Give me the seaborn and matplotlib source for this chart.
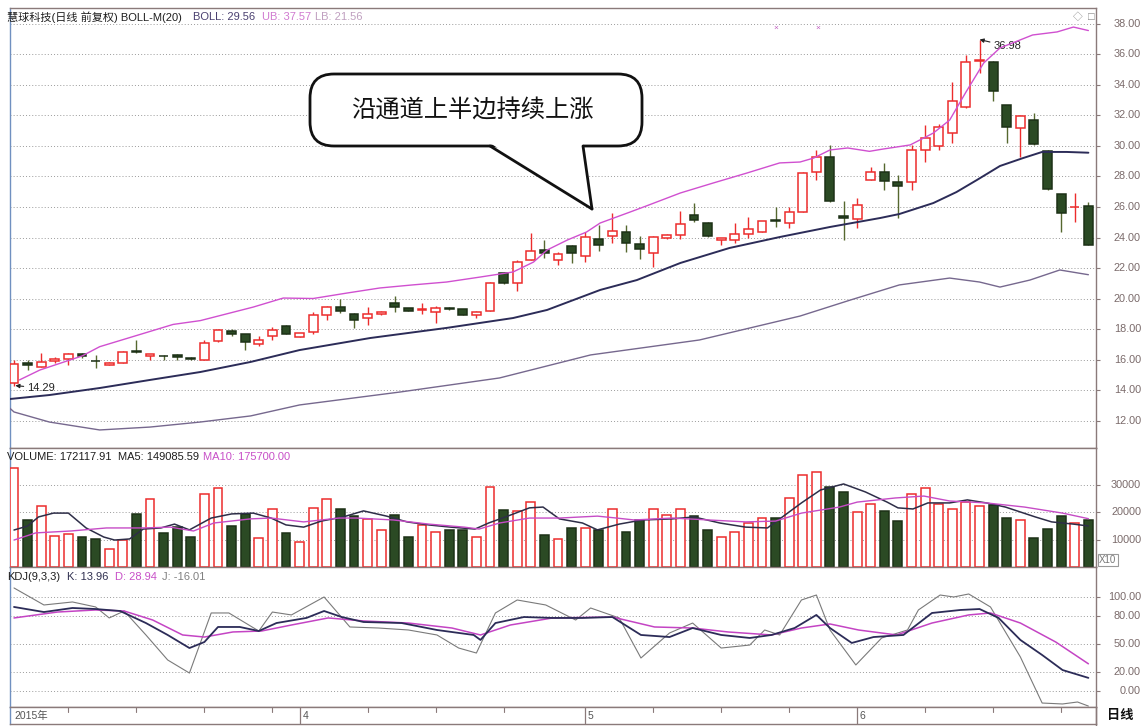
import numpy as np
import pandas as pd
import matplotlib
matplotlib.use("Agg")
import matplotlib.pyplot as plt
import seaborn as sns
from matplotlib.patches import FancyBboxPatch, Polygon

# ---------------- data ----------------
opens = [14.45, 15.78, 15.53, 15.88, 16.01, 16.34, 15.93, 15.66, 15.79, 16.53,
         16.25, 16.25, 16.27, 16.08, 15.98, 17.20, 17.85, 17.68, 17.03, 17.55,
         18.20, 17.50, 17.78, 18.92, 19.42, 19.00, 18.70, 18.97, 19.70, 19.36,
         19.27, 19.14, 19.38, 19.29, 18.92, 19.18, 21.70, 21.00, 22.52, 23.18,
         22.55, 23.44, 22.80, 23.88, 24.10, 24.38, 23.55, 23.00, 24.00, 24.16,
         25.48, 24.97, 23.85, 23.84, 24.23, 24.38, 25.15, 24.98, 25.70, 28.28,
         29.30, 25.41, 25.20, 27.77, 28.28, 27.62, 27.66, 29.74, 30.00, 30.83,
         32.54, 35.58, 35.53, 32.69, 31.16, 31.70, 29.69, 26.85, 25.98, 26.07]
highs = [15.95, 15.97, 16.45, 16.18, 16.42, 16.42, 16.30, 15.82, 16.55, 17.28,
         16.38, 16.30, 16.35, 16.18, 17.30, 18.02, 18.00, 17.70, 17.54, 18.15,
         18.25, 17.76, 19.14, 19.50, 20.00, 19.05, 19.46, 19.18, 20.16, 19.40,
         19.70, 19.50, 19.45, 19.30, 19.18, 21.06, 21.75, 22.50, 24.28, 23.83,
         23.07, 23.50, 24.38, 24.80, 25.60, 24.82, 24.10, 24.10, 24.25, 25.74,
         26.28, 25.00, 24.00, 24.93, 25.32, 25.10, 26.02, 26.02, 28.30, 29.74,
         30.07, 26.39, 26.60, 28.64, 28.87, 28.10, 30.07, 31.38, 31.44, 34.22,
         35.97, 36.98, 35.60, 32.72, 32.00, 32.14, 29.72, 26.88, 26.90, 26.35]
lows = [14.29, 15.31, 15.50, 15.75, 15.64, 16.08, 15.44, 15.62, 15.77, 16.42,
        15.97, 15.95, 16.00, 15.95, 15.97, 17.15, 17.55, 16.62, 16.90, 17.28,
        17.65, 17.45, 17.70, 18.60, 19.07, 18.05, 18.26, 18.90, 19.14, 19.15,
        19.00, 18.40, 19.25, 18.90, 18.70, 19.15, 20.95, 20.50, 22.50, 22.64,
        22.20, 22.30, 22.40, 23.14, 23.62, 23.07, 22.57, 22.09, 23.90, 23.88,
        25.04, 24.05, 23.50, 23.66, 23.95, 24.35, 24.70, 24.60, 25.65, 27.77,
        26.35, 23.84, 24.60, 27.75, 27.11, 25.26, 27.11, 28.97, 29.74, 30.22,
        32.50, 34.77, 32.95, 30.22, 29.30, 30.08, 27.10, 24.38, 25.04, 23.48]
closes = [15.68, 15.65, 15.86, 16.03, 16.36, 16.20, 15.88, 15.79, 16.51, 16.48,
          16.36, 16.20, 16.18, 16.02, 17.10, 17.95, 17.65, 17.13, 17.28, 17.93,
          17.68, 17.72, 18.92, 19.42, 19.15, 18.60, 18.96, 19.14, 19.42, 19.20,
          19.31, 19.40, 19.34, 18.92, 19.14, 21.04, 21.00, 22.42, 23.12, 22.96,
          22.90, 22.96, 24.05, 23.50, 24.43, 23.62, 23.25, 24.05, 24.16, 24.89,
          25.15, 24.10, 23.98, 24.23, 24.54, 25.08, 25.05, 25.70, 28.25, 29.26,
          26.39, 25.26, 26.10, 28.32, 27.73, 27.40, 29.74, 30.50, 31.22, 32.95,
          35.53, 35.62, 33.61, 31.23, 31.97, 30.11, 27.15, 25.59, 26.03, 23.51]
volumes = [36000, 17100, 22200, 11400, 12000, 10900, 10200, 6500, 9800, 19300,
           24700, 12400, 14600, 10900, 26500, 28600, 14900, 19300, 10500, 21100,
           12400, 9100, 21500, 24700, 21100, 18500, 17300, 13500, 18900, 11000,
           15300, 12700, 13500, 13500, 10900, 29000, 20700, 20400, 23600, 11600,
           10200, 14200, 14200, 13500, 21200, 12800, 17100, 21200, 18900, 21200,
           18500, 13500, 11000, 12800, 16000, 17800, 17800, 25200, 33500, 34500,
           29100, 27400, 20100, 22900, 20400, 16700, 26500, 28700, 22900, 21100,
           23700, 22200, 22500, 17900, 17100, 10500, 13800, 18700, 16000, 17200]

# Bollinger band lines (candle position, price)
boll_up_x = [0.4, 1.9, 5.0, 6.3, 11.7, 13.7, 17.6, 19.8, 22.0, 24.5, 26.9, 29.3, 31.8,
             34.3, 36.7, 38.2, 39.2, 40.7, 42.1, 43.1, 45.3, 46.5, 49.0, 51.4, 53.9,
             56.3, 57.8, 58.8, 60.0, 61.3, 62.9, 63.9, 65.9, 67.6, 68.8, 70.0, 71.3,
             72.5, 74.9, 76.7, 77.9, 79.0]
boll_up_y = [14.66, 15.31, 16.23, 16.84, 18.30, 18.55, 19.44, 20.03, 20.00, 20.36, 20.69,
             20.89, 21.08, 21.41, 21.74, 22.39, 23.18, 23.84, 24.36, 24.95, 25.67, 26.07,
             26.92, 27.57, 28.23, 28.89, 28.95, 29.21, 29.74, 29.87, 29.65, 29.80, 30.07,
             30.85, 31.70, 33.54, 35.44, 36.43, 37.28, 37.48, 37.80, 37.57]
boll_mid_x = [-0.3, 2.6, 6.3, 10.0, 13.7, 17.4, 21.0, 26.2, 31.8, 36.7, 39.2, 43.1, 45.8,
              49.0, 52.6, 56.3, 60.0, 63.7, 65.1, 67.6, 69.3, 70.8, 72.5, 74.2, 75.6,
              77.4, 79.0]
boll_mid_y = [13.41, 13.67, 14.13, 14.66, 15.18, 15.84, 16.62, 17.41, 18.07, 18.72, 19.25,
              20.56, 21.21, 22.33, 23.31, 24.03, 24.69, 25.28, 25.54, 26.26, 26.98, 27.77,
              28.69, 29.21, 29.61, 29.61, 29.56]
boll_low_x = [-0.3, 0.0, 2.6, 6.3, 10.0, 13.7, 17.4, 21.0, 28.4, 35.7, 42.4, 50.4, 57.8,
              61.5, 65.1, 68.8, 71.0, 72.5, 74.7, 76.9, 79.0]
boll_low_y = [12.80, 12.56, 11.90, 11.38, 11.57, 11.90, 12.30, 13.02, 13.87, 14.79, 16.30,
              17.28, 18.85, 19.90, 20.89, 21.34, 21.08, 20.75, 21.21, 21.87, 21.56]

# Volume moving averages (candle position, value)
ma5_x = [0, 1, 1.8, 2.9, 4, 5.3, 6.6, 7.4, 8.5, 9.5, 10.8, 11.8, 12.9, 14.5, 16, 17.6, 18.9,
         20, 21.3, 22.6, 24.2, 25.7, 27.4, 28.9, 30.5, 32.1, 33.9, 34.9, 36.3, 37.9, 38.9,
         40.1, 41.8, 42.9, 44.5, 46.2, 48.4, 50, 51.9, 53.8, 55.4, 56.5, 57.9, 59.3, 61,
         62.6, 64.2, 65, 66.1, 67.2, 68.8, 70.1, 71.5, 72.9, 74, 75.1, 76.3, 77.9, 79]
ma5_y = [13450, 14900, 18200, 19600, 19600, 14200, 10900, 9800, 10200, 13800, 14200, 15600,
         13500, 17800, 19300, 19600, 17800, 15300, 14500, 16700, 18200, 20400, 18500, 16400,
         15300, 14500, 13800, 16000, 18500, 21500, 21800, 17500, 16000, 13500, 15600, 17100,
         17500, 18200, 16000, 14500, 14200, 18200, 23300, 28000, 30200, 27300, 23600, 21500,
         21100, 23300, 23300, 24400, 23300, 21800, 20000, 18200, 16400, 15600, 14910]
ma10_x = [0, 1.6, 4.2, 6.8, 9.5, 11.5, 13.2, 14.7, 17.4, 18.9, 21.3, 23.9, 25.2, 27.9, 30.5,
          33.1, 34.2, 35.7, 37.9, 40.1, 42.9, 44.3, 45.6, 48.4, 51.1, 53.8, 56, 57.9, 60.7,
          62, 64.8, 66.9, 68.8, 71.5, 74.3, 77.1, 79]
ma10_y = [9800, 12400, 13100, 14200, 14200, 14500, 13100, 16000, 17500, 17800, 16400, 17800,
          17800, 17100, 15600, 14500, 13800, 16000, 17800, 17800, 18500, 17800, 17100, 17800,
          17100, 16400, 16700, 19600, 21800, 23600, 25100, 25800, 24000, 23300, 21800, 19600,
          17570]

# KDJ lines (candle position, value)
k_x = [0, 2.2, 4.3, 6, 7.8, 9.7, 11.3, 12.9, 14, 15, 16.6, 18, 19.3, 21.5, 22.8, 24.1, 25.7,
       28.5, 31.1, 33.8, 34.3, 35.4, 37.5, 39.6, 41.8, 44, 46.1, 48.2, 49.9, 52, 54.1, 55.7,
       57.4, 59, 60, 61.6, 63.2, 65.4, 67.5, 69.6, 71, 72.4, 74, 75.6, 77.1, 79]
k_y = [89.4, 84.0, 88.3, 87.2, 85.1, 72.3, 59.6, 45.7, 52.1, 68.1, 68.1, 63.8, 72.3, 77.7,
       85.1, 78.7, 73.4, 72.3, 64.9, 59.6, 54.3, 72.3, 78.7, 77.7, 77.7, 78.7, 59.6, 57.4,
       67.0, 59.6, 56.4, 59.6, 67.0, 80.9, 67.0, 51.1, 57.4, 59.6, 83.0, 86.2, 87.2, 77.7,
       54.3, 38.3, 22.3, 13.96]
d_x = [0, 3.2, 6, 8.1, 10.2, 12.4, 14, 16.1, 18.2, 20.4, 23.1, 25.7, 29, 32.2, 34.3, 36.5,
       39.6, 44, 47.1, 49.9, 52.5, 55.7, 57.9, 60, 62.1, 64.9, 67.5, 70.2, 71.8, 74, 76.6, 79]
d_y = [77.7, 84.0, 86.2, 85.1, 75.5, 59.6, 57.4, 62.8, 63.8, 70.2, 77.7, 74.5, 72.3, 67.0,
       59.6, 70.2, 77.7, 78.7, 68.1, 67.0, 62.8, 59.6, 67.0, 71.3, 64.9, 59.6, 72.3, 80.9,
       83.0, 72.3, 52.1, 28.94]
j_x = [0, 2.2, 4.3, 6, 7, 8.1, 9.7, 11.3, 12.9, 14.5, 15.8, 18, 19, 20.4, 22.8, 24.7, 26.8,
       29, 31.1, 32.7, 34, 35.4, 37, 39.1, 41.3, 42.4, 44.5, 46.1, 48.2, 49.9, 52, 54.1, 55.2,
       56.3, 57.9, 59, 60, 61.9, 63.8, 65.7, 66.5, 68.1, 69.1, 70.2, 71.8, 74, 75.6, 77.1,
       78.2, 79]
j_y = [109.6, 91.5, 94.7, 89.4, 77.7, 85.1, 59.6, 33.0, 19.1, 83.0, 83.0, 63.8, 84.0, 80.9,
       100.0, 68.1, 67.0, 64.9, 59.6, 45.7, 40.4, 83.0, 96.8, 91.5, 75.5, 88.3, 77.7, 35.1,
       61.7, 72.3, 45.7, 48.9, 64.9, 59.6, 96.8, 102.1, 64.9, 27.7, 56.4, 64.9, 86.2, 102.1,
       100.0, 103.2, 89.4, 36.2, -12.8, -13.8, -11.7, -16.01]

price_ticks = [12, 14, 16, 18, 20, 22, 24, 26, 28, 30, 32, 34, 36, 38]
vol_ticks = [10000, 20000, 30000]
kdj_ticks = [0, 20, 50, 80, 100]
month_labels = ["4", "5", "6"]
month_start_idx = [21, 42, 62]
week_start_idx = [4, 9, 14, 19, 26, 31, 36, 47, 52, 57, 67, 72, 77]

header_price = [("慧球科技(日线 前复权) BOLL-M(20)", "#1e1e1e"), ("BOLL: 29.56", "#4a4070"),
                ("UB: 37.57", "#d07ad0"), ("LB: 21.56", "#c0a0c0")]
header_vol = [("VOLUME: 172117.91", "#1e1e1e"), ("MA5: 149085.59", "#1e1e1e"),
              ("MA10: 175700.00", "#c850c8")]
header_kdj = [("KDJ(9,3,3)", "#1e1e1e"), ("K: 13.96", "#303050"),
              ("D: 28.94", "#c850c8"), ("J: -16.01", "#808080")]
bubble_text = "沿通道上半边持续上涨"

# ---------------- style ----------------
sns.set_style("white")
plt.rcParams["font.family"] = ["Liberation Sans", "Noto Sans CJK SC", "DejaVu Sans"]

W, H = 1142, 726
fig = plt.figure(figsize=(W / 100, H / 100), dpi=100)
fig.patch.set_facecolor("white")

def px_axes(top, bottom, left=10, right=1096):
    return fig.add_axes([left / W, 1 - bottom / H, (right - left) / W, (bottom - top) / H])

ax_p = px_axes(8, 448)
ax_v = px_axes(448, 567)
ax_k = px_axes(567, 707)
ax_s = px_axes(707, 724)

XL = (-0.294, 79.56)
RED = "#ec2c2c"
GRN = "#2b4a24"
GRN_EDGE = "#1c3016"
GRN_WICK = "#56682f"
GRID = "#9a9a9a"
SPINE = "#8a7a7a"
LBL = "#7a6a6a"

n = len(opens)
idx = np.arange(n)
o = np.array(opens); c = np.array(closes); hi = np.array(highs); lo = np.array(lows)
up = c >= o

for ax in (ax_p, ax_v, ax_k, ax_s):
    ax.set_xlim(*XL)
    ax.set_facecolor("white")
    for s in ax.spines.values():
        s.set_color(SPINE)
        s.set_linewidth(1.0)
    ax.spines["left"].set_color("#7090c0")
    ax.tick_params(axis="x", bottom=False, labelbottom=False, top=False)

ax_p.set_ylim(10.197, 39.049)
ax_v.set_ylim(0, 43273)
ax_k.set_ylim(-17.02, 131.9)
ax_s.set_ylim(0, 1)

# grids
def hgrid(ax, ticks):
    for t in ticks:
        ax.axhline(t, color=GRID, lw=0.7, ls=(0, (1, 2.2)), zorder=0)

hgrid(ax_p, price_ticks)
hgrid(ax_v, vol_ticks)
hgrid(ax_k, kdj_ticks)

# right axis labels
def right_labels(ax, ticks, fmt):
    ax.set_yticks(ticks)
    ax.tick_params(axis="y", left=False, labelleft=False, right=True, labelright=False,
                   length=3, color=SPINE, width=0.8)
    for t in ticks:
        ax.text(1 + 45 / 1086, t, fmt(t), transform=ax.get_yaxis_transform(), ha="right",
                va="center", fontsize=7.8, color=LBL, clip_on=False)

right_labels(ax_p, price_ticks, lambda t: f"{t:.2f}")
right_labels(ax_v, vol_ticks, lambda t: f"{t:d}")
right_labels(ax_k, kdj_ticks, lambda t: f"{t:.2f}")
ax_s.set_yticks([])

# ---------------- candles ----------------
wick_col = np.where(up, RED, GRN_WICK)
ax_p.vlines(idx, lo, hi, colors=wick_col, lw=1.0, zorder=2)
body_bottom = np.minimum(o, c)
body_h = np.maximum(np.abs(c - o), 0.03)
ax_p.bar(idx, body_h, bottom=body_bottom, width=0.66,
         color=np.where(up, "white", GRN), edgecolor=np.where(up, RED, GRN_EDGE),
         linewidth=1.1, zorder=3)

def sline(ax, xs, ys, color, lw, z=4):
    df = pd.DataFrame({"x": xs, "y": ys})
    sns.lineplot(data=df, x="x", y="y", ax=ax, color=color, linewidth=lw,
                 estimator=None, sort=False, legend=False, zorder=z)
    ax.set_xlabel("")
    ax.set_ylabel("")

sline(ax_p, boll_up_x, boll_up_y, "#d050d0", 1.0)
sline(ax_p, boll_mid_x, boll_mid_y, "#2c2c58", 1.4)
sline(ax_p, boll_low_x, boll_low_y, "#76688e", 1.0)

# ---------------- volume ----------------
ax_v.bar(idx, volumes, width=0.66, color=np.where(up, "white", GRN),
         edgecolor=np.where(up, RED, GRN_EDGE), linewidth=1.1, zorder=3)
sline(ax_v, ma5_x, ma5_y, "#2e2e48", 1.1)
sline(ax_v, ma10_x, ma10_y, "#c64cc6", 1.0)

# ---------------- KDJ ----------------
sline(ax_k, j_x, j_y, "#7a7a7a", 0.8)
sline(ax_k, d_x, d_y, "#c444c4", 1.1)
sline(ax_k, k_x, k_y, "#2c2c58", 1.3)

for ax, ticks in ((ax_p, price_ticks), (ax_v, vol_ticks), (ax_k, kdj_ticks)):
    ax.set_yticks(ticks)
    ax.set_xticks([])

# ---------------- bottom date strip ----------------
for m in month_start_idx:
    ax_s.axvline(m, color=SPINE, lw=0.9)
for w in week_start_idx:
    ax_s.plot([w, w], [1.0, 0.72], color=SPINE, lw=0.8)
ax_s.text(0.0, 0.45, "2015年", fontsize=7.5, color="#555555", va="center", ha="left")
for m, lab in zip(month_start_idx, month_labels):
    ax_s.text(m + 0.2, 0.45, lab, fontsize=7.5, color="#555555", va="center", ha="left")
ax_s.set_yticks([])
ax_s.set_xticks([])

# annotations on price panel
ax_p.annotate("14.29", xy=(0.1, 14.29), xytext=(0.95, 14.13), fontsize=8, color="#222222",
              va="center", ha="left",
              arrowprops=dict(arrowstyle="-|>", color="#222222", lw=0.8, mutation_scale=6,
                              shrinkA=0, shrinkB=0))
ax_p.annotate("36.98", xy=(71.0, 36.98), xytext=(72.0, 36.55), fontsize=8, color="#222222",
              va="center", ha="left",
              arrowprops=dict(arrowstyle="-|>", color="#222222", lw=0.8, mutation_scale=6,
                              shrinkA=0, shrinkB=0))
for xm in (56.0, 59.1):
    ax_p.text(xm, 37.74, "×", fontsize=6, color="#c060c0", ha="center", va="center")

# ---------------- overlay: headers, bubble ----------------
ov = fig.add_axes([0, 0, 1, 1])
ov.set_xlim(0, W)
ov.set_ylim(H, 0)
ov.axis("off")
ov.patch.set_alpha(0)

def seq_text(y, items, xs, size=8.0):
    for (txt, col), x in zip(items, xs):
        ov.text(x, y, txt, color=col, fontsize=size, va="center", ha="left")

seq_text(17, header_price, [7, 193, 262, 315])
seq_text(457, header_vol, [7, 118, 203])
seq_text(577, header_kdj, [7, 67, 115, 162])

ov.text(1078, 17, "◇", fontsize=7, color="#888888", va="center", ha="center")
ov.text(1091, 17, "□", fontsize=8, color="#888888", va="center", ha="center")
ov.text(1099, 560, "X10", fontsize=7, color="#777777", va="center", ha="left",
        bbox=dict(boxstyle="square,pad=0.15", fc="white", ec="#999999", lw=0.8))
ov.text(1120, 716, "日线", fontsize=9.5, color="#111111", va="center", ha="center",
        fontweight="bold")
ov.plot([1096, 1096], [707, 726], color=SPINE, lw=1)

bubble = FancyBboxPatch((310, 74), 332, 72, boxstyle="round,pad=0,rounding_size=24",
                        fc="white", ec="#111111", lw=2.0, zorder=5)
ov.add_patch(bubble)
tail = Polygon([(490, 143), (583, 143), (592, 209)], closed=True, fc="white", ec="none",
               zorder=6)
ov.add_patch(tail)
ov.plot([490, 592], [146, 209], color="#111111", lw=2.0, zorder=7, solid_capstyle="round")
ov.plot([583, 592], [146, 209], color="#111111", lw=2.0, zorder=7, solid_capstyle="round")
ov.text(472, 111, bubble_text, fontsize=17.5, color="#111111", ha="center", va="center",
        family=["Noto Sans CJK SC"], zorder=8)

fig.savefig("out.png", dpi=100, facecolor="white")
